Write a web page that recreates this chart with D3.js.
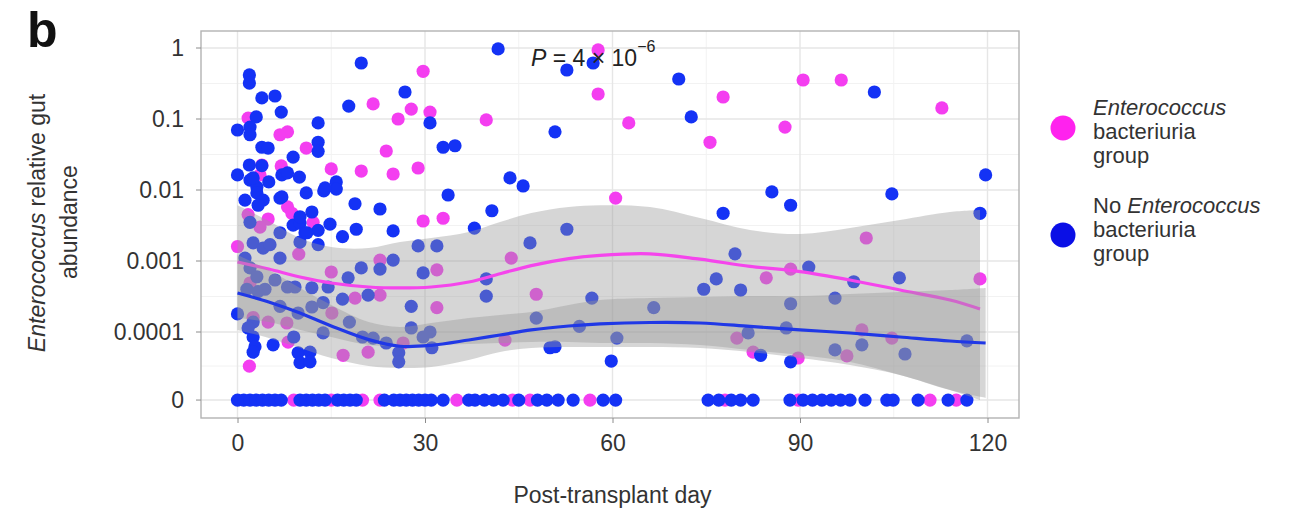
<!DOCTYPE html>
<html>
<head>
<meta charset="utf-8">
<script src="https://cdn.jsdelivr.net/npm/d3@7"></script>
<style>
  body { margin: 0; background: #fff; }
  svg text { font-family: "Liberation Sans", Arial, sans-serif; }
</style>
</head>
<body>
<svg id="chart" width="1292" height="512"></svg>
<script>
// Enterococcus bacteriuria group (magenta)
var entDays = [57.7,57.7,29.7,21.7,27.8,25.7,30.8,39.8,1.7,6.8,8,11,23.8,3.9,3.6,7,15,19.8,24.9,28.9,60.5,77.7,62.6,75.6,90.5,96.6,87.6,112.7,100.6,88.5,84.6,118.8,99.9,79.9,104.7,82.5,97.5,89.7,29.7,32.9,22.8,43.8,31.9,22.8,47.8,31.9,26.5,42.8,0,9.8,15,18.8,15.1,7.9,4.9,8.1,1.9,16.9,20.9,8,8.7,12.1,4.9,1.7,3.6,2,2.5,
  9,15,20,22.8,35.1,44,46.8,56.4,78,89.7,110.8,115];
var entAbund = [0.94,0.225,0.47,0.163,0.138,0.1,0.125,0.097,0.103,0.06,0.066,0.039,0.0354,0.0225,0.0163,0.0218,0.0198,0.0185,0.0168,0.0204,0.0077,0.204,0.088,0.047,0.354,0.354,0.077,0.143,0.00211,0.00077,0.00058,0.00056,0.000107,0.000082,0.000082,0.000052,0.000046,0.000043,0.00366,0.004,0.00103,0.0011,0.00075,0.00033,0.00034,0.00022,0.00007,0.000077,0.0016,0.00125,0.0007,0.0003,0.000185,0.000134,0.000138,0.000072,0.000033,0.000047,0.000052,0.0058,0.0047,0.0035,0.0039,0.0045,0.003,0.00049,0.00016,
  0,0,0,0,0,0,0,0,0,0,0,0];

// No Enterococcus bacteriuria group (blue)
var noDays = [41.7,52.7,56.9,19.8,1.9,1.9,3.9,6,26.8,17.8,30.8,50.8,7,3,0,2,2,12.9,3.9,4.9,12.9,12.9,32.9,34.8,8.9,1.9,0,2,3.1,5,7.1,8,9.9,43.6,45.7,15.8,15.8,13.8,11,6.8,33.7,18.8,22.8,40.7,70.6,72.6,101.9,119.7,85.5,88.5,104.7,77.7,118.8,79.6,91.4,76.6,74.6,80.5,98.6,105.9,95.6,88.5,66.6,87.8,116.7,60.7,81.7,99.9,95.6,106.8,83.7,88.5,59.8,24.9,37.9,28.9,31.9,52.7,46.8,24.9,22.8,29.7,39.8,39.8,27.8,56.7,47.8,27.8,30.8,29.7,21.7,23.8,31.1,25.8,25.8,50,50.8,54.7,6.8,8.9,10,10.8,10,12.9,14.8,16.8,19,12.9,6.8,17.7,19.8,8,9.2,11.9,14.5,6,16.8,20.9,6.8,9.7,11.9,13.7,0,13.7,17.9,2.5,1.7,2.5,2.8,2.5,5.7,9,9.7,10,11.6,11.6,20,2,3.1,2.5,4.1,5.2,2.5,3.1,4.1,3.3,7.1,10,11.9,11.1,2,14,3.9,1.2,1.2,1.5,3.3,4.4,
  0,1,2,3,4,5,6,7,10,11,12,13,14,16,17,18,19,23.5,25,26,27,28,29,30,31,32.9,37,38,39.5,41,42.5,45,48,49.5,51.3,53.7,58.5,60.5,75.3,77,79,80.5,82.5,88.4,90.5,92,93.5,95,96.5,98,100.4,103.9,104.9,108.9,113.7,116.7];
var noAbund = [0.97,0.49,0.615,0.615,0.417,0.321,0.198,0.211,0.24,0.152,0.088,0.066,0.125,0.107,0.07,0.077,0.06,0.088,0.04,0.039,0.047,0.035,0.04,0.042,0.029,0.0225,0.0163,0.0138,0.011,0.013,0.0163,0.0174,0.0152,0.0148,0.0114,0.013,0.0103,0.0097,0.0091,0.0077,0.0085,0.0064,0.0054,0.0051,0.366,0.107,0.24,0.0163,0.0094,0.0061,0.0088,0.0047,0.0047,0.00126,0.00082,0.00056,0.0004,0.00039,0.00051,0.00058,0.0003,0.00025,0.00022,0.000114,0.000075,0.000082,0.000097,0.000066,0.000056,0.000049,0.000047,0.000038,0.000039,0.00265,0.0029,0.00163,0.00163,0.0028,0.0018,0.00103,0.00077,0.00068,0.00056,0.00032,0.00023,0.0003,0.000157,0.000114,0.0001,0.000085,0.000082,0.00007,0.00006,0.000051,0.000038,0.00006,0.000062,0.00012,0.0025,0.0032,0.0034,0.0025,0.00185,0.0027,0.0033,0.0022,0.0028,0.0017,0.0011,0.00058,0.0008,0.00043,0.00043,0.00042,0.00043,0.00054,0.00029,0.00033,0.00023,0.000185,0.000225,0.00026,0.00018,0.000097,0.000138,0.000138,0.000114,0.000085,0.000062,0.000052,0.000066,0.000085,0.000051,0.000037,0.000052,0.000038,0.000085,0.0008,0.0006,0.0018,0.00152,0.0017,0.0148,0.0091,0.0072,0.0061,0.008,0.0042,0.0049,0.0025,0.0035,0.0107,0.022,0.0072,0.0011,0.0004,0.00037,0.0004,
  0,0,0,0,0,0,0,0,0,0,0,0,0,0,0,0,0,0,0,0,0,0,0,0,0,0,0,0,0,0,0,0,0,0,0,0,0,0,0,0,0,0,0,0,0,0,0,0,0,0,0,0,0,0,0,0];

// smoothed fits with confidence band
var entFitDays = [0,5,10,15,21,26,31,37,42,47,53,58,66,74,82,90,98,106,114,118.8];
var entFit   = [9.7e-4,7.7e-4,5.95e-4,4.9e-4,4.3e-4,4.17e-4,4.3e-4,5.06e-4,6.6e-4,8.6e-4,1.08e-3,1.2e-3,1.26e-3,1.06e-3,8.4e-4,7.1e-4,5.4e-4,3.9e-4,2.82e-4,2.11e-4];
var entUpper = [6.1e-3,3.66e-3,2.11e-3,1.575e-3,1.52e-3,1.85e-3,2.11e-3,2.56e-3,3.54e-3,4.74e-3,5.76e-3,6.1e-3,5.76e-3,4.03e-3,2.73e-3,2.4e-3,2.92e-3,3.78e-3,4.9e-3,5.23e-3];
var entLower = [1.57e-4,1.38e-4,1.07e-4,8.5e-5,6.56e-5,6.35e-5,6.56e-5,6.78e-5,7.0e-5,7.23e-5,7.23e-5,7.0e-5,7.0e-5,6.56e-5,5.58e-5,4.74e-5,3.78e-5,2.48e-5,1.52e-5,1.1e-5];

var noFitDays = [0,5,10,15,21,26,31,37,42,47,53,58,66,74,82,90,98,106,114,119.7];
var noFit   = [3.54e-4,2.65e-4,1.85e-4,1.215e-4,7.8e-5,6.3e-5,6.5e-5,7.72e-5,9.07e-5,1.07e-4,1.215e-4,1.3e-4,1.36e-4,1.34e-4,1.2e-4,1.07e-4,9.68e-5,8.5e-5,7.47e-5,7.0e-5];
var noUpper = [1.215e-3,7.47e-4,4.17e-4,2.4e-4,1.38e-4,1.18e-4,1.34e-4,1.57e-4,1.74e-4,1.91e-4,2.4e-4,2.82e-4,3.01e-4,3.11e-4,3.21e-4,3.21e-4,3.43e-4,3.66e-4,3.9e-4,4.17e-4];
var noLower = [1.07e-4,8.23e-5,5.95e-5,4.3e-5,3.32e-5,3.11e-5,3.21e-5,4.03e-5,5.23e-5,5.95e-5,6.15e-5,6.15e-5,6.15e-5,5.95e-5,5.23e-5,4.3e-5,3.43e-5,2.48e-5,1.52e-5,1.18e-5];

var xTicks = [0, 30, 60, 90, 120];
var xMinor = [15, 45, 75, 105];
var yTicks = [1, 0.1, 0.01, 0.001, 0.0001, 0];
var yTickLabels = ['1', '0.1', '0.01', '0.001', '0.0001', '0'];
var ZERO_AT = 1.1e-5;   // zeros are drawn at this pseudo value on the log axis

var colEnt = '#f43ef0', colNo = '#1432f5';

var svg = d3.select('#chart');
var panel = {left: 201, right: 1019, top: 31, bottom: 418};

var x = d3.scaleLinear().domain([-5.84, 125.04]).range([panel.left, panel.right]);
var y = d3.scaleLog().domain([1e-4, 1]).range([332, 48]);
function yv(v){ return y(v === 0 ? ZERO_AT : v); }

// grid
var grid = svg.append('g');
grid.selectAll('.xminor').data(xMinor).enter().append('line')
  .attr('x1', function(d){ return x(d); }).attr('x2', function(d){ return x(d); })
  .attr('y1', panel.top).attr('y2', panel.bottom)
  .style('stroke', '#f2f2f2').style('stroke-width', 1);
var yMinor = [Math.sqrt(0.1), Math.sqrt(0.001), Math.sqrt(0.00001), Math.sqrt(1e-7), Math.sqrt(1e-4 * ZERO_AT)];
grid.selectAll('.yminor').data(yMinor).enter().append('line')
  .attr('x1', panel.left).attr('x2', panel.right)
  .attr('y1', function(d){ return y(d); }).attr('y2', function(d){ return y(d); })
  .style('stroke', '#f2f2f2').style('stroke-width', 1);
grid.selectAll('.xmajor').data(xTicks).enter().append('line')
  .attr('x1', function(d){ return x(d); }).attr('x2', function(d){ return x(d); })
  .attr('y1', panel.top).attr('y2', panel.bottom)
  .style('stroke', '#e6e6e6').style('stroke-width', 1.4);
grid.selectAll('.ymajor').data(yTicks).enter().append('line')
  .attr('x1', panel.left).attr('x2', panel.right)
  .attr('y1', function(d){ return yv(d); }).attr('y2', function(d){ return yv(d); })
  .style('stroke', '#e6e6e6').style('stroke-width', 1.4);

svg.append('clipPath').attr('id', 'clip').append('rect')
  .attr('x', panel.left).attr('y', panel.top)
  .attr('width', panel.right - panel.left).attr('height', panel.bottom - panel.top);

var plot = svg.append('g').attr('clip-path', 'url(#clip)');

function drawPoints(days, abund, col){
  plot.append('g').selectAll('circle')
    .data(d3.range(days.length)).enter()
    .append('circle')
    .attr('cx', function(i){ return x(days[i]); })
    .attr('cy', function(i){ return yv(abund[i]); })
    .attr('r', 6.6)
    .style('fill', col);
}
drawPoints(entDays, entAbund, colEnt);
drawPoints(noDays, noAbund, colNo);

function drawSmooth(days, fit, lo, hi, col){
  var idx = d3.range(days.length);
  var area = d3.area()
    .x(function(i){ return x(days[i]); })
    .y0(function(i){ return y(lo[i]); })
    .y1(function(i){ return y(hi[i]); })
    .curve(d3.curveCatmullRom.alpha(0.5));
  plot.append('path').datum(idx).attr('d', area)
    .style('fill', '#999999').style('fill-opacity', 0.4);
  var line = d3.line()
    .x(function(i){ return x(days[i]); })
    .y(function(i){ return y(fit[i]); })
    .curve(d3.curveCatmullRom.alpha(0.5));
  plot.append('path').datum(idx).attr('d', line)
    .style('fill', 'none').style('stroke', col).style('stroke-width', 3.2);
}
drawSmooth(entFitDays, entFit, entLower, entUpper, '#f545ec');
drawSmooth(noFitDays, noFit, noLower, noUpper, '#2038e6');

// panel border
svg.append('rect')
  .attr('x', panel.left).attr('y', panel.top)
  .attr('width', panel.right - panel.left).attr('height', panel.bottom - panel.top)
  .style('fill', 'none').style('stroke', '#b3b3b3').style('stroke-width', 1.4);

// axes
var xAxis = d3.axisBottom(x).tickValues(xTicks).tickSize(5).tickPadding(12);
var gx = svg.append('g').attr('transform', 'translate(0,' + panel.bottom + ')').call(xAxis);
gx.select('.domain').remove();
gx.selectAll('line').style('stroke', '#8c8c8c');
gx.selectAll('text').style('font-size', '23px').style('fill', '#333')
  .style('font-family', '"Liberation Sans", Arial, sans-serif');

var gy = svg.append('g');
gy.selectAll('line').data(yTicks).enter().append('line')
  .attr('x1', panel.left - 5).attr('x2', panel.left)
  .attr('y1', function(d){ return yv(d); }).attr('y2', function(d){ return yv(d); })
  .style('stroke', '#8c8c8c');
gy.selectAll('text').data(yTicks).enter().append('text')
  .attr('x', panel.left - 17)
  .attr('y', function(d){ return yv(d); })
  .attr('dy', '0.35em')
  .attr('text-anchor', 'end')
  .style('font-size', '23px').style('fill', '#333')
  .text(function(d, i){ return yTickLabels[i]; });

// axis titles
svg.append('text')
  .attr('x', x(60)).attr('y', 503)
  .attr('text-anchor', 'middle')
  .style('font-size', '23px').style('fill', '#333')
  .text('Post-transplant day');

var yt = svg.append('text')
  .attr('transform', 'translate(45,223) rotate(-90)')
  .attr('text-anchor', 'middle')
  .style('font-size', '23px').style('fill', '#333');
yt.append('tspan').style('font-style', 'italic').text('Enterococcus');
yt.append('tspan').text(' relative gut');
svg.append('text')
  .attr('transform', 'translate(77,222) rotate(-90)')
  .attr('text-anchor', 'middle')
  .style('font-size', '23px').style('fill', '#333')
  .text('abundance');

// panel letter
svg.append('text').attr('x', 27).attr('y', 47)
  .style('font-size', '50px').style('font-weight', 'bold').style('fill', '#111')
  .text('b');

// P value
var pt = svg.append('text').attr('x', 531).attr('y', 66)
  .style('font-size', '23px').style('fill', '#222');
pt.append('tspan').style('font-style', 'italic').text('P');
pt.append('tspan').text(' = 4 \u00d7 10');
pt.append('tspan').attr('dy', -14).style('font-size', '16px').text('\u22126');

// legend
var legend = [
  {col: '#ff22ee', cy: 128, lines: [['Enterococcus', true]], rest: ['bacteriuria', 'group'], y0: 115},
  {col: '#0a0fe6', cy: 235, lines: [['No ', false], ['Enterococcus', true]], rest: ['bacteriuria', 'group'], y0: 213}
];
legend.forEach(function(l){
  svg.append('circle').attr('cx', 1063).attr('cy', l.cy).attr('r', 12.5).style('fill', l.col);
  var t = svg.append('text').attr('x', 1093).attr('y', l.y0)
    .style('font-size', '22px').style('fill', '#333');
  l.lines.forEach(function(p){
    t.append('tspan').style('font-style', p[1] ? 'italic' : 'normal').text(p[0]);
  });
  l.rest.forEach(function(s, i){
    svg.append('text').attr('x', 1093).attr('y', l.y0 + 24 * (i + 1))
      .style('font-size', '22px').style('fill', '#333').text(s);
  });
});
</script>
</body>
</html>
